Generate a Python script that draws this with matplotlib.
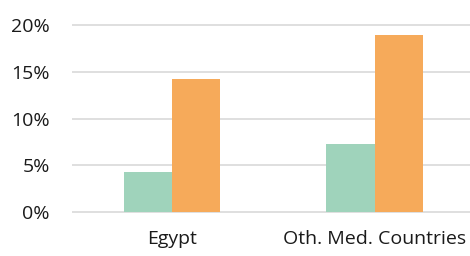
import matplotlib
matplotlib.use("Agg")
import matplotlib.pyplot as plt
import numpy as np
from matplotlib.ticker import PercentFormatter

# data
categories = ["Egypt", "Oth. Med. Countries"]
series_a = [0.0427, 0.0726]   # green
series_b = [0.1424, 0.1890]   # orange
yticks = [0.0, 0.05, 0.10, 0.15, 0.20]

colors = ['#9fd3bb', '#f6aa5a']

plt.rcParams['font.family'] = ['Open Sans', 'DejaVu Sans']

fig = plt.figure(figsize=(4.7, 2.56), dpi=100)
ax = fig.add_axes([72/470, 40/256, 398/470, 201/256])

x = np.arange(len(categories))
w = 0.2386
ax.bar(x - w/2, series_a, width=w, color=colors[0], zorder=3)
ax.bar(x + w/2, series_b, width=w, color=colors[1], zorder=3)

ax.set_xlim(-0.494, 1.47)
ax.set_ylim(-0.00427, 0.2107)
ax.set_yticks(yticks)
ax.yaxis.set_major_formatter(PercentFormatter(1.0, decimals=0))
ax.set_xticks(x)
ax.set_xticklabels(categories)
ax.grid(axis='y', color='#d9d9d9', linewidth=1.2, zorder=0)
ax.tick_params(axis='both', length=0, labelsize=14, colors='#1a1a1a')
ax.tick_params(axis='y', pad=16)
ax.tick_params(axis='x', pad=10)
for s in ax.spines.values():
    s.set_visible(False)

fig.savefig("out.png", dpi=100)
